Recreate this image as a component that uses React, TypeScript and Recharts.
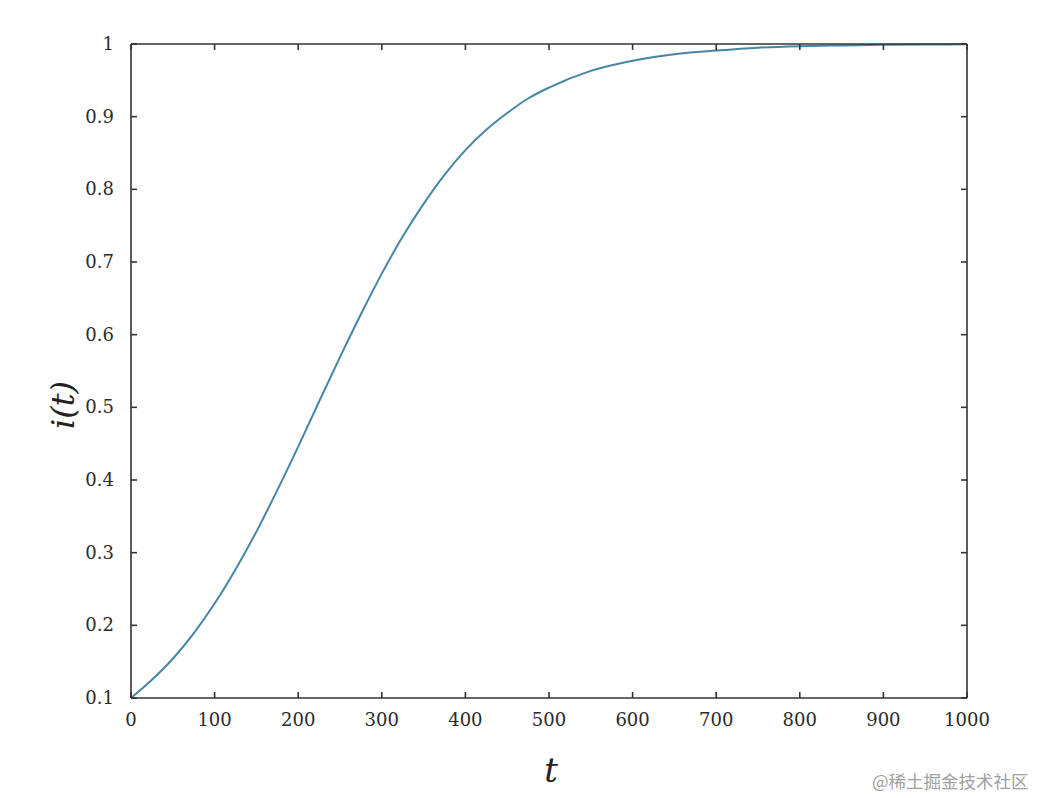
import React from 'react';
import { LineChart, Line, XAxis, YAxis, Label } from 'recharts';

const tValues = [0, 25, 50, 75, 100, 125, 150, 175, 200, 225, 250, 275, 300, 325, 350, 375, 400, 425, 450, 475, 500, 550, 600, 650, 700, 750, 800, 850, 900, 950, 1000];
const iValues = [0.1, 0.125, 0.154, 0.189, 0.23, 0.277, 0.329, 0.386, 0.446, 0.508, 0.569, 0.628, 0.684, 0.735, 0.78, 0.82, 0.854, 0.882, 0.905, 0.925, 0.94, 0.963, 0.977, 0.986, 0.991, 0.995, 0.997, 0.998, 0.999, 0.9993, 0.9996];
const xTicks = [0, 100, 200, 300, 400, 500, 600, 700, 800, 900, 1000];
const yTicks = [0.1, 0.2, 0.3, 0.4, 0.5, 0.6, 0.7, 0.8, 0.9, 1];

const data = tValues.map((t, k) => ({ t, i: iValues[k] }));

const FONT = '"DejaVu Serif", serif';
const AXIS = '#333333';
const TICK_LEN = 6;

const BottomTick = (props: any) => {
  const { x, y, payload } = props;
  return (
    <g>
      <line x1={x} y1={y} x2={x} y2={y - TICK_LEN} stroke={AXIS} strokeWidth={1.6} />
      <text x={x} y={y + 28} textAnchor="middle" style={{ fill: '#2a2a2a', fontSize: 18, fontFamily: FONT }}>
        {payload.value}
      </text>
    </g>
  );
};

const LeftTick = (props: any) => {
  const { x, y, payload } = props;
  return (
    <g>
      <line x1={x} y1={y} x2={x + TICK_LEN} y2={y} stroke={AXIS} strokeWidth={1.6} />
      <text x={x - 17} y={y + 6} textAnchor="end" style={{ fill: '#2a2a2a', fontSize: 18, fontFamily: FONT }}>
        {payload.value}
      </text>
    </g>
  );
};

const TopTick = (props: any) => {
  const { x, y } = props;
  return <line x1={x} y1={y} x2={x} y2={y + TICK_LEN} stroke={AXIS} strokeWidth={1.6} />;
};

const RightTick = (props: any) => {
  const { x, y } = props;
  return <line x1={x} y1={y} x2={x - TICK_LEN} y2={y} stroke={AXIS} strokeWidth={1.6} />;
};

const YLabel = (props: any) => {
  const vb = props.viewBox || {};
  const cx = vb.x - 6;
  const cy = vb.y + vb.height / 2 + 34;
  return (
    <text x={cx} y={cy} transform={`rotate(-90, ${cx}, ${cy})`} textAnchor="middle" dominantBaseline="middle"
      style={{ fontFamily: FONT, fontStyle: 'italic', fontSize: 32, fill: '#222' }}>
      i(t)
    </text>
  );
};

const XLabel = (props: any) => {
  const vb = props.viewBox || {};
  return (
    <text x={vb.x + vb.width / 2 + 2} y={vb.y + 84} textAnchor="middle"
      style={{ fontFamily: FONT, fontStyle: 'italic', fontSize: 34, fill: '#222' }}>
      t
    </text>
  );
};

export default function App() {
  return (
    <div style={{ position: 'relative', width: 1029, height: 790 }}>
      <LineChart width={1029} height={790} data={data} margin={{ top: 35, right: 69, bottom: 70, left: 63 }}>
        <XAxis dataKey="t" type="number" domain={[0, 1000]} ticks={xTicks} interval={0}
          tickSize={0} tickMargin={0} tickLine={false} stroke={AXIS} strokeWidth={1.6} tick={<BottomTick />} height={30}>
          <Label content={<XLabel />} />
        </XAxis>
        <XAxis xAxisId="top" orientation="top" type="number" dataKey="t" domain={[0, 1000]} ticks={xTicks}
          interval={0} tickSize={0} tickMargin={0} tickLine={false} stroke={AXIS} strokeWidth={1.6} tick={<TopTick />} height={1} />
        <YAxis type="number" domain={[0.1, 1]} ticks={yTicks} interval={0} tickSize={0} tickMargin={0}
          tickLine={false} stroke={AXIS} strokeWidth={1.6} tick={<LeftTick />} width={60}>
          <Label content={<YLabel />} />
        </YAxis>
        <YAxis yAxisId="right" orientation="right" type="number" domain={[0.1, 1]} ticks={yTicks} interval={0}
          tickSize={0} tickMargin={0} tickLine={false} stroke={AXIS} strokeWidth={1.6} tick={<RightTick />} width={1} />
        <Line type="monotone" dataKey="i" stroke="#4585a5" strokeWidth={2} dot={false} isAnimationActive={false} />
        <Line type="monotone" dataKey="i" xAxisId="top" yAxisId="right" stroke="none" strokeWidth={0} dot={false}
          activeDot={false} legendType="none" isAnimationActive={false} />
      </LineChart>
      <div style={{ position: 'absolute', left: 864, top: 760, fontFamily: '"Noto Sans CJK SC", sans-serif', fontSize: 17.5, color: '#a0a0a0', whiteSpace: 'nowrap' }}>
        @稀土掘金技术社区
      </div>
    </div>
  );
}
